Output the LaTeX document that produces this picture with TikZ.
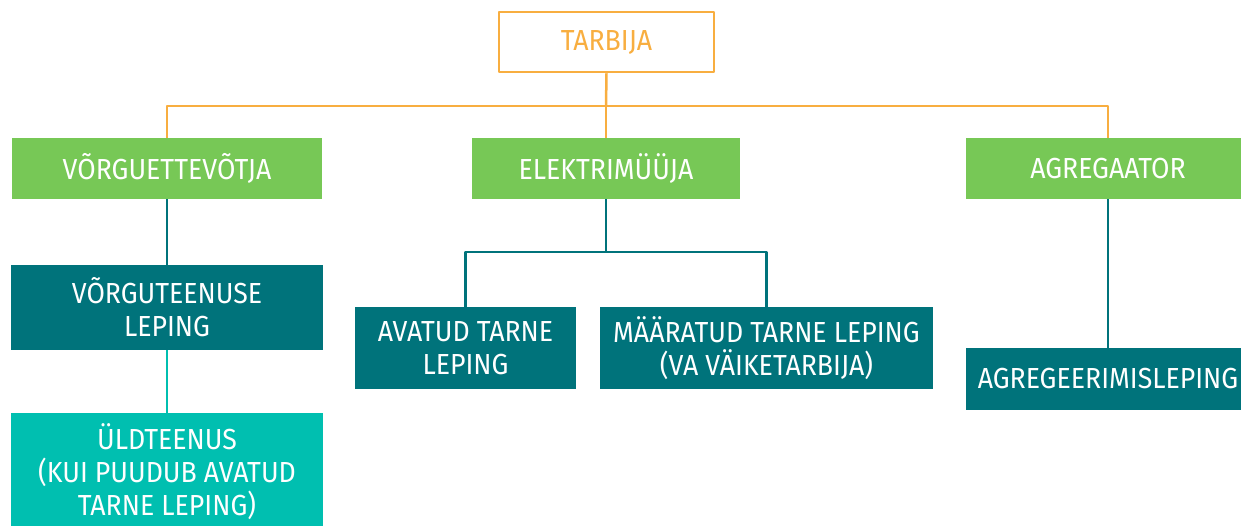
\documentclass[tikz,border=0pt]{standalone}
\usepackage{fontspec}
\setmainfont[FakeStretch=0.92]{Fira Sans}
\definecolor{tarbor}{HTML}{F8AE40}
\definecolor{rolegreen}{HTML}{77C856}
\definecolor{darkteal}{HTML}{00737B}
\definecolor{lightteal}{HTML}{00BFB0}
\begin{document}
\begin{tikzpicture}[x=1pt,y=-1pt,font=\fontsize{29}{33}\selectfont,line join=round,
	role/.style={fill=rolegreen,text=white,minimum height=61pt,inner sep=0pt},
	deal/.style={fill=darkteal,text=white,align=center,inner sep=0pt},
	oline/.style={tarbor,line width=2.5pt},
	tline/.style={darkteal,line width=2.2pt}]
	\useasboundingbox (0,0) rectangle (1241,525);
	\node[draw=tarbor,line width=2.5pt,text=tarbor,minimum width=215pt,minimum height=60pt,inner sep=0pt] (tarbija) at (606.5,42) {TARBIJA};
	\node[role,minimum width=310pt] (vorgu) at (167,168.5) {VÕRGUETTEVÕTJA};
	\node[role,minimum width=268pt] (muuja) at (606,168.5) {ELEKTRIMÜÜJA};
	\node[role,minimum width=284pt] (agre) at (1108,168.5) {AGREGAATOR};
	\node[deal,minimum width=312pt,minimum height=85pt] (vleping) at (167,307.5) {VÕRGUTEENUSE\\LEPING};
	\node[deal,fill=lightteal,minimum width=312pt,minimum height=118pt] (yld) at (167,472) {ÜLDTEENUS\\(KUI PUUDUB AVATUD\\TARNE LEPING)};
	\node[deal,minimum width=221pt,minimum height=82pt] (avatud) at (465.5,348) {AVATUD TARNE\\LEPING};
	\node[deal,minimum width=333pt,minimum height=82pt] (maaratud) at (766.5,348) {MÄÄRATUD TARNE LEPING\\(VA VÄIKETARBIJA)};
	\node[deal,minimum width=284pt,minimum height=62pt] (aleping) at (1108,379) {AGREGEERIMISLEPING};
	% tarbija ja rollid
	\coordinate (obus) at (606,106);
	\draw[oline] (tarbija.south) -- (obus);
	\draw[oline] (vorgu.north) |- (obus) -| (agre.north);
	\draw[oline] (muuja.north) -- (obus);
	% lepingud
	\draw[tline] (vorgu.south) -- (vleping.north);
	\draw[lightteal,line width=2.2pt] (vleping.south) -- (yld.north);
	\coordinate (tbus) at (606,252);
	\draw[tline] (muuja.south) -- (tbus);
	\draw[tline] (avatud.north) |- (tbus) -| (maaratud.north);
	\draw[tline] (agre.south) -- (aleping.north);
\end{tikzpicture}
\end{document}
